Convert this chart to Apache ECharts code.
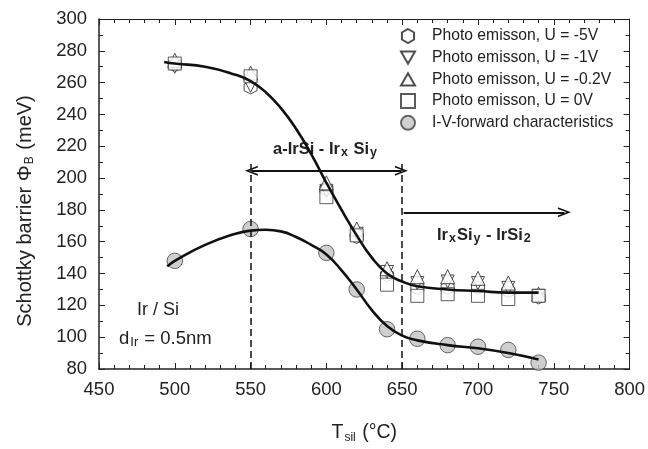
<!DOCTYPE html>
<html>
<head>
<meta charset="utf-8">
<script src="https://cdn.jsdelivr.net/npm/echarts@6/dist/echarts.min.js"></script>
<style>
  html, body { margin: 0; padding: 0; background: #fff; }
  #chart { width: 648px; height: 449px; }
</style>
</head>
<body>
<div id="chart"></div>
<script>
// data
var temps = [500, 550, 600, 620, 640, 660, 680, 700, 720, 740];
var peU5 = [271, 257, 193, 163, 139, 131, 131, 131, 129, 125];     // U = -5V
var peU1 = [270, 258, 192, 165, 141, 134, 135, 134, 131, 126];     // U = -1V
var peU02 = [274, 266, 197, 168, 143, 138, 138, 137, 134, 127];    // U = -0.2V
var peU0 = [272, 264, 188, 164, 133, 126, 127, 126, 124, 126];     // U = 0V
var ivFwd = [148, 168, 153, 130, 105, 99, 95, 94, 92, 84];         // I-V forward

// hand-drawn fit curves
var fitUpT = [493, 500, 520, 540, 550, 560, 570, 580, 590, 600, 610, 620, 630, 640, 650, 660, 680, 700, 720, 740];
var fitUpV = [273, 272, 270, 265, 261, 254, 244, 231, 215, 197, 180, 164, 150, 140, 135, 132, 130, 129, 128, 128];
var fitLoT = [495, 500, 520, 540, 550, 560, 570, 580, 590, 600, 610, 620, 630, 640, 650, 660, 680, 700, 720, 740];
var fitLoV = [144.5, 148, 158, 165, 167, 167.5, 166.5, 163, 158, 152, 142, 130, 117, 107, 101, 98, 95, 93, 90, 86];

var names = ['Photo emisson, U = -5V', 'Photo emisson, U = -1V', 'Photo emisson, U = -0.2V', 'Photo emisson, U = 0V', 'I-V-forward characteristics'];

function pairs(xs, ys) {
  return xs.map(function (x, i) { return [x, ys[i]]; });
}

var hexPath = 'path://M0,-1 L0.866,-0.5 L0.866,0.5 L0,1 L-0.866,0.5 L-0.866,-0.5 Z';
var downPath = 'path://M-1,-0.85 L1,-0.85 L0,0.9 Z';
var upPath = 'path://M-1,0.85 L1,0.85 L0,-0.9 Z';
var chevron = 'path://M0,13 L5,0 L10,13 L8.2,13 L5,4.2 L1.8,13 Z';

var font = 'Liberation Sans, Arial, sans-serif';
var ink = '#222';
var openStyle = { color: '#fff', borderColor: ink, borderWidth: 1 };

function markerSeries(name, sym, size, ys, style) {
  return {
    name: name, type: 'scatter', symbol: sym, symbolSize: size,
    data: pairs(temps, ys), itemStyle: style, silent: true
  };
}

// rich text helper for subscripts
function subRich(mainSize, subSize, bold, lh, pad) {
  var w = bold ? 'bold' : 'normal';
  return {
    t: { fontSize: mainSize, fontWeight: w, fill: ink, color: ink, fontFamily: font, lineHeight: lh },
    s: { fontSize: subSize, fontWeight: w, fill: ink, color: ink, fontFamily: font, lineHeight: 12, padding: [pad, 1, 0, 1], verticalAlign: 'bottom' }
  };
}

var myChart = echarts.init(document.getElementById('chart'));

var option = {
  animation: false,
  textStyle: { fontFamily: font },
  grid: { left: 99, right: 12, top: 19, bottom: 75 },
  legend: {
    orient: 'vertical', left: 395, top: 23, itemGap: 5.7,
    itemWidth: 14, itemHeight: 14,
    textStyle: { fontSize: 15.7, color: ink, fontFamily: font, lineHeight: 16, padding: [0, 0, 0, 12] },
    data: [
      { name: names[0], icon: hexPath },
      { name: names[1], icon: downPath },
      { name: names[2], icon: upPath },
      { name: names[3], icon: 'rect' },
      { name: names[4], icon: 'circle' }
    ],
    selectedMode: false
  },
  xAxis: [{
    type: 'value', min: 450, max: 800, interval: 50,
    axisLine: { lineStyle: { color: ink, width: 1.5 } },
    axisTick: { inside: true, length: 6, lineStyle: { color: ink } },
    minorTick: { show: true, splitNumber: 5, length: 4, lineStyle: { color: ink } },
    splitLine: { show: false },
    axisLabel: { fontSize: 18.5, color: ink, margin: 11 },
    name: '{t|T}{s|sil}{t| (°C)}', nameLocation: 'middle', nameGap: 53,
    nameTextStyle: { rich: subRich(19.5, 12, false, 22, 15) }
  }, {
    type: 'value', min: 450, max: 800, interval: 50, position: 'top',
    axisLine: { lineStyle: { color: ink, width: 1 } },
    axisTick: { inside: true, length: 6, lineStyle: { color: ink } },
    minorTick: { show: true, splitNumber: 5, length: 4, lineStyle: { color: ink } },
    splitLine: { show: false }, axisLabel: { show: false }
  }],
  yAxis: [{
    type: 'value', min: 80, max: 300, interval: 20,
    axisLine: { show: true, lineStyle: { color: ink, width: 1.5 } },
    axisTick: { show: true, inside: true, length: 6, lineStyle: { color: ink } },
    minorTick: { show: true, splitNumber: 2, length: 4, lineStyle: { color: ink } },
    splitLine: { show: false },
    axisLabel: { fontSize: 18.5, color: ink, margin: 12 },
    name: '{t|Schottky barrier Φ}{s|B}{t| (meV)}', nameLocation: 'middle', nameGap: 63,
    nameTextStyle: { rich: subRich(20, 12, false, 22, 16), padding: [0, 34, 0, 0] }
  }, {
    type: 'value', min: 80, max: 300, interval: 20, position: 'right',
    axisLine: { show: true, lineStyle: { color: ink, width: 1 } },
    axisTick: { show: true, inside: true, length: 6, lineStyle: { color: ink } },
    minorTick: { show: true, splitNumber: 2, length: 4, lineStyle: { color: ink } },
    splitLine: { show: false }, axisLabel: { show: false }
  }],
  series: [
    {
      type: 'line', smooth: true, showSymbol: false, silent: true,
      data: pairs(fitUpT, fitUpV),
      lineStyle: { color: '#111', width: 2.6 },
      markLine: {
        silent: true, symbol: ['none', 'none'],
        label: { show: false },
        lineStyle: { color: '#111', width: 1.5, type: [7, 4] },
        data: [
          [{ coord: [550, 80] }, { coord: [550, 211] }],
          [{ coord: [650, 80] }, { coord: [650, 211] }]
        ]
      }
    },
    {
      type: 'line', smooth: true, showSymbol: false, silent: true,
      data: pairs(fitLoT, fitLoV),
      lineStyle: { color: '#111', width: 2.6 },
      markLine: {
        silent: true, symbol: ['none', 'none'],
        label: { show: false },
        lineStyle: { color: '#111', width: 1.8, type: 'solid' },
        data: [
          [{ coord: [550.5, 204.6], symbol: chevron, symbolSize: [10, 13] },
           { coord: [649.5, 204.6], symbol: chevron, symbolSize: [10, 13] }],
          [{ coord: [651, 178.5] },
           { coord: [757, 178.5], symbol: chevron, symbolSize: [10, 13] }]
        ]
      }
    },
    markerSeries(names[0], hexPath, 13, peU5, openStyle),
    markerSeries(names[1], downPath, 13, peU1, openStyle),
    markerSeries(names[2], upPath, 14, peU02, openStyle),
    markerSeries(names[3], 'rect', 13, peU0, { color: '#fff', borderColor: '#333', borderWidth: 1 }),
    markerSeries(names[4], 'circle', 15.5, ivFwd, { color: '#c3c3c3', borderColor: '#444', borderWidth: 1 })
  ],
  graphic: [
    {
      type: 'text', left: 273, top: 126,
      style: { text: '{t|a-IrSi - Ir}{s|x}{t| Si}{s|y}', rich: subRich(16.5, 12.5, true, 20, 20) }
    },
    {
      type: 'text', left: 437, top: 214,
      style: { text: '{t|Ir}{s|x}{t|Si}{s|y}{t| - IrSi}{s|2}', rich: subRich(16.5, 12.5, true, 20, 18) }
    },
    {
      type: 'text', left: 137, top: 301,
      style: { text: 'Ir / Si', fontSize: 18, fill: ink, fontFamily: font }
    },
    {
      type: 'text', left: 119, top: 316,
      style: { text: '{t|d}{s|Ir}{t| = 0.5nm}', rich: subRich(18.5, 13, false, 20, 20) }
    }
  ]
};

myChart.setOption(option);
</script>
</body>
</html>
